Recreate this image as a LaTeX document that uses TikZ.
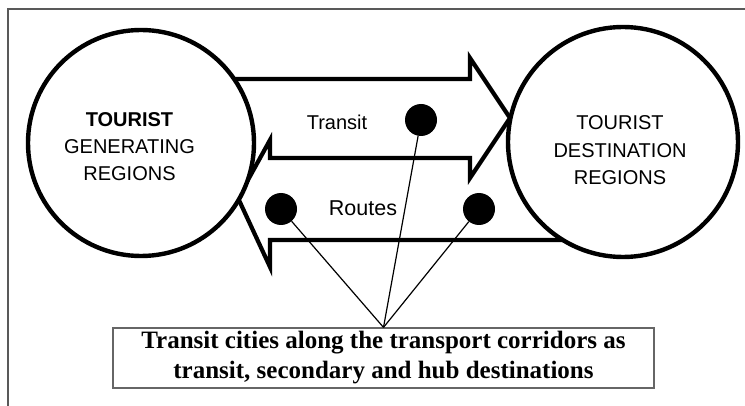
\documentclass[tikz,border=0pt]{standalone}
\usepackage{fontspec}
\setmainfont{Liberation Serif}
\newfontfamily\arialfont{Liberation Sans}
\usetikzlibrary{
  calc,        % 坐标计算
  positioning  % 节点相对定位
}
\tikzset{
  corridor/.style={
    draw=black,
    line width=4.2pt,
    line join=miter
  },
  region/.style={
    circle,
    draw=black,
    fill=white,
    line width=4.4pt,
    inner sep=0pt
  },
  region label/.style={
    font=\arialfont\fontsize{20}{27}\selectfont,
    align=center,
    inner sep=0pt
  },
  route label/.style={
    font=\arialfont\fontsize{20}{24}\selectfont,
    inner sep=0pt
  },
  city dot/.style={
    circle,
    fill=black,
    inner sep=0pt,
    minimum size=32pt
  },
  link/.style={
    line width=1.2pt,
    color=black
  },
  caption box/.style={
    draw=gray!80!black,
    line width=1.2pt,
    fill=white,
    minimum width=541pt,
    minimum height=60pt,
    inner sep=0pt,
    align=center,
    font=\bfseries\fontsize{25}{30}\selectfont
  }
}

\begin{document}
\begin{tikzpicture}[x=1pt, y=-1pt]
  \useasboundingbox (0,0) rectangle (745,406);

  % 1. 外框 (只露出左边与上边)
  \draw[gray!70!black, line width=1.5pt] (8,406) -- (8,9) -- (745,9);

  % 2. 两条走廊箭头 (上: 向右的 Transit，下: 向左的 Routes，共用中线)
  \draw[corridor] (200,79) -- (470,79) -- (470,58) -- (510,118) -- (470,178)
    -- (470,158) -- (270,158) -- (270,140) -- (238,198) -- (270,267)
    -- (270,240) -- (600,240);

  % 3. 客源地与目的地两个圆 (白底盖住箭头端头)
  \node[region, minimum size=226pt] (gen) at (141,143) {};
  \node[region, minimum size=230pt] (dest) at (623,142) {};
  \node[region label] (genlabel) at (129.5,147) {\textbf{TOURIST}\\GENERATING\\REGIONS};
  \node[region label, font=\arialfont\fontsize{20}{27.5}\selectfont] (destlabel) at (620,150.5) {TOURIST\\DESTINATION\\REGIONS};

  % 4. 走廊文字
  \node[route label] (transit) at (337,122) {Transit};
  \node[route label, font=\arialfont\fontsize{21.5}{24}\selectfont] (routes) at (363,208) {Routes};

  % 5. 中转城市圆点与说明框
  \node[city dot] (cityT) at (421,120) {};
  \node[city dot] (cityL) at (281,209) {};
  \node[city dot] (cityR) at (479,209) {};
  \node[caption box] (cities) at (383.5,358) {Transit cities along the transport corridors as\\transit, secondary and hub destinations};

  % 6. 连线
  \foreach \c in {cityT, cityL, cityR}
    \draw[link] (\c) -- (cities.north);

\end{tikzpicture}
\end{document}
